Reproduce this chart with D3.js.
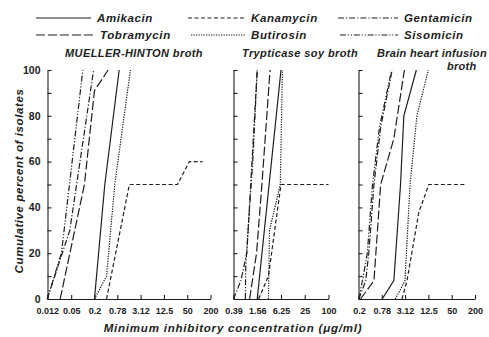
<!DOCTYPE html>
<html><head><meta charset="utf-8">
<script src="https://cdn.jsdelivr.net/npm/d3@7"></script>
<style>
body{margin:0;background:#fff;}
svg{display:block;font-family:"Liberation Sans",Arial,sans-serif;}
.lbl{font-style:italic;font-weight:bold;fill:#222;}
.tick text{font-family:"Liberation Sans",Arial,sans-serif;font-weight:bold;fill:#222;}
</style></head><body>
<svg id="c" width="489" height="337"></svg>
<script>
// ---- data ----
const drugs = ["Amikacin","Kanamycin","Gentamicin","Tobramycin","Butirosin","Sisomicin"];
const panelTitles = ["MUELLER-HINTON broth","Trypticase soy broth","Brain heart infusion"];
const mhTicks = [0.012,0.05,0.2,0.78,3.12,12.5,50,200];
const mhTickLabels = ["0.012","0.05","0.2","0.78","3.12","12.5","50","200"];
const tsTicks = [0.39,1.56,6.25,25,100];
const tsTickLabels = ["0.39","1.56","6.25","25","100"];
const bhTicks = [0.2,0.78,3.12,12.5,50,200];
const bhTickLabels = ["0.2","0.78","3.12","12.5","50","200"];
const yTicks = [0,10,20,30,40,50,60,70,80,90,100];
const yTickLabels = [0,20,40,60,80,100];

// Mueller-Hinton broth  [MIC, cumulative %]
const mhAmikacin   = [[0.2,0],[0.37,50],[0.87,100]];
const mhKanamycin  = [[0.41,0],[1.6,50],[28,50],[57,60],[125,60]];
const mhGentamicin = [[0.012,0],[0.046,30],[0.19,100]];
const mhTobramycin = [[0.026,0],[0.11,50],[0.2,91],[0.45,100]];
const mhButirosin  = [[0.2,0],[0.41,10],[0.67,50],[1.7,100]];
const mhSisomicin  = [[0.012,0],[0.028,20],[0.1,100]];
// Trypticase soy broth
const tsAmikacin   = [[1.56,0],[6.25,100]];
const tsKanamycin  = [[1.7,0],[3.0,10],[6.25,50],[100,50]];
const tsGentamicin = [[0.39,0],[0.6,8],[0.85,20],[1.56,100]];
const tsTobramycin = [[1.0,0],[1.5,20],[2.05,50],[3.3,100]];
const tsButirosin  = [[3.0,0],[3.2,30],[6.0,50],[6.8,100]];
const tsSisomicin  = [[0.78,0],[0.8,15],[1.2,60],[1.56,100]];
// Brain heart infusion broth
const bhAmikacin   = [[0.8,0],[1.6,8],[2.38,50],[2.9,80],[6.1,100]];
const bhKanamycin  = [[2.6,0],[3.5,8],[7.1,38],[12.8,50],[113,50]];
const bhGentamicin = [[0.2,0],[0.3,8],[0.36,20],[0.49,50],[0.73,75],[1.45,100]];
const bhTobramycin = [[0.22,0],[0.49,8],[0.73,50],[1.6,70],[3.0,100]];
const bhButirosin  = [[1.75,0],[3.1,8],[4.2,50],[6.3,80],[12.5,100]];
const bhSisomicin  = [[0.2,0],[0.26,10],[0.33,20],[0.45,50],[0.68,75],[1.4,100]];

// ---- styles ----
const dash = {
  Amikacin: null,
  Kanamycin: "4,2.5",
  Gentamicin: "6,2,1.2,2",
  Tobramycin: "9,3",
  Butirosin: "1.3,1.2",
  Sisomicin: "6,1.8,1.2,1.8,1.2,1.8"
};

const svg = d3.select("#c");
const ink = "#1e1e1e";
const y = d3.scaleLinear().domain([0,100]).range([299,70]);

const panels = [
  {x: d3.scaleLog().domain([200/Math.pow(4,7),200]).range([47.5,210.5]), ticks: mhTicks, labels: mhTickLabels, yl: true,
   series: [mhAmikacin,mhKanamycin,mhGentamicin,mhTobramycin,mhButirosin,mhSisomicin]},
  {x: d3.scaleLog().domain([100/Math.pow(4,4),100]).range([233.5,328.5]), ticks: tsTicks, labels: tsTickLabels, yl: false,
   series: [tsAmikacin,tsKanamycin,tsGentamicin,tsTobramycin,tsButirosin,tsSisomicin]},
  {x: d3.scaleLog().domain([200/Math.pow(4,5),200]).range([358.5,475]), ticks: bhTicks, labels: bhTickLabels, yl: false,
   series: [bhAmikacin,bhKanamycin,bhGentamicin,bhTobramycin,bhButirosin,bhSisomicin]}
];

panels.forEach(p => {
  const x0 = p.x.range()[0];
  // y axis
  const ya = d3.axisLeft(y).tickValues(yTicks).tickSizeInner(-4).tickSizeOuter(0).tickPadding(7)
    .tickFormat(d => (p.yl && yTickLabels.includes(d)) ? d : "");
  const gy = svg.append("g").attr("transform",`translate(${x0},0)`).call(ya);
  gy.selectAll("text").attr("font-size","10.5px");
  // x axis
  const xa = d3.axisBottom(p.x).tickValues(p.ticks).tickSizeInner(-4).tickSizeOuter(0).tickPadding(9)
    .tickFormat((d,i) => p.labels[i]);
  const gx = svg.append("g").attr("transform",`translate(0,${y(0)})`).call(xa);
  gx.selectAll("text").attr("font-size","9px");
  svg.selectAll(".domain, .tick line").attr("stroke",ink).attr("stroke-width",1.1);
  // lines
  const line = d3.line().x(d => p.x(d[0])).y(d => y(d[1]));
  p.series.forEach((s,i) => {
    svg.append("path").attr("d", line(s)).attr("fill","none").attr("stroke",ink)
      .attr("stroke-width",1.2).attr("stroke-dasharray", dash[drugs[i]]);
  });
});

// legend
const legendPos = [
  {x1:36,x2:91,ty:18},{x1:188,x2:245,ty:18},{x1:338,x2:398,ty:18},
  {x1:36,x2:94,ty:35},{x1:191,x2:245,ty:35},{x1:340,x2:398,ty:35}
];
drugs.forEach((d,i) => {
  const lp = legendPos[i];
  svg.append("line").attr("x1",lp.x1).attr("x2",lp.x2).attr("y1",lp.ty).attr("y2",lp.ty)
    .attr("stroke",ink).attr("stroke-width",1.2).attr("stroke-dasharray",dash[d]);
  svg.append("text").attr("class","lbl").attr("x",lp.x2+6).attr("y",lp.ty+4)
    .attr("font-size","11.5px").attr("letter-spacing","0.6px").text(d);
});

// panel titles
svg.append("text").attr("class","lbl").attr("x",65).attr("y",57).attr("font-size","11px").attr("font-style","normal").attr("letter-spacing","0.4px").text(panelTitles[0]);
svg.append("text").attr("class","lbl").attr("x",242).attr("y",57).attr("font-size","11px").attr("font-weight","normal").attr("letter-spacing","0.4px").text(panelTitles[1]);
svg.append("text").attr("class","lbl").attr("x",377).attr("y",57).attr("font-size","11px").attr("letter-spacing","0.3px").text(panelTitles[2]);
svg.append("text").attr("class","lbl").attr("x",447).attr("y",70).attr("font-size","11px").attr("letter-spacing","0.3px").text("broth");

// axis titles
svg.append("text").attr("class","lbl").attr("transform","translate(23,181) rotate(-90)")
  .attr("text-anchor","middle").attr("font-size","11.5px").attr("letter-spacing","0.6px").text("Cumulative percent of isolates");
svg.append("text").attr("class","lbl").attr("x",233).attr("y",332)
  .attr("text-anchor","middle").attr("font-size","11.5px").attr("letter-spacing","0.8px").text("Minimum inhibitory concentration (μg/ml)");
</script>
</body></html>
